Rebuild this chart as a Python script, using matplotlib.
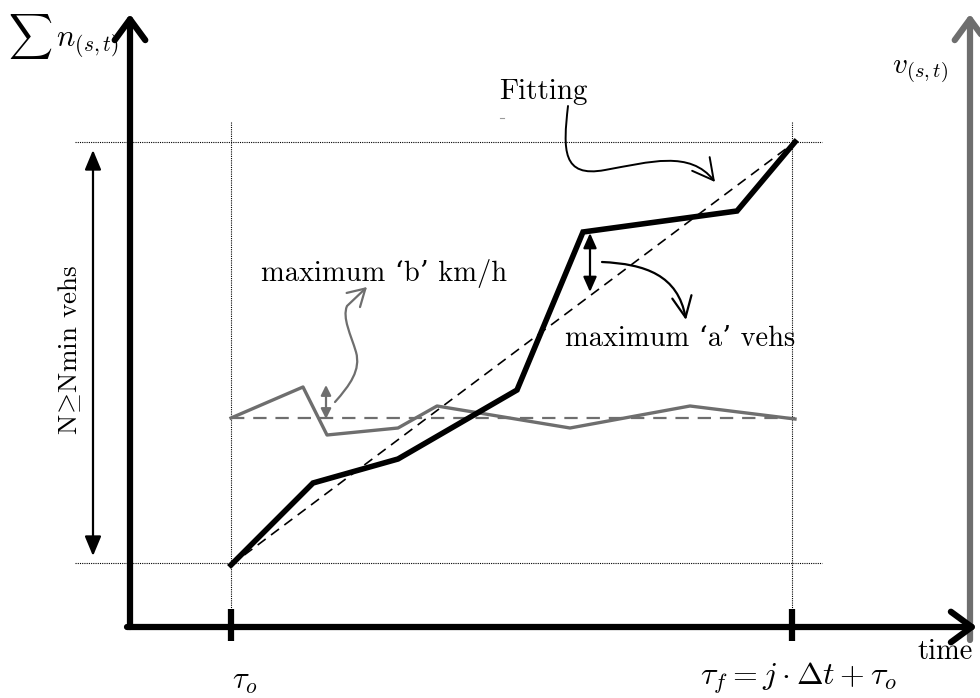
import matplotlib
matplotlib.use("Agg")
import matplotlib.pyplot as plt
from matplotlib.patches import FancyArrowPatch
from matplotlib.path import Path

plt.rcParams["mathtext.fontset"] = "cm"
plt.rcParams["font.family"] = ["cmr10", "DejaVu Serif"]
plt.rcParams["axes.unicode_minus"] = False

# --- schematic data (drawing units = pixels of the 980x698 canvas) ---
cum_x = [231, 313, 398, 517, 583, 737, 795]
cum_y = [565, 483, 459, 390, 232, 211, 142]

speed_x = [231, 303, 327, 398, 437, 570, 690, 795]
speed_y = [418, 387, 435, 428, 406, 428, 406, 419]

fit_x = [231, 795]
fit_y = [565, 142]

speed_mean_y = 418
t_start, t_end = 231, 792
n_low, n_high = 563, 142

BLACK = "#000000"
GRAY = "#6e6e6e"

fig = plt.figure(figsize=(9.8, 6.98), dpi=100)
ax = fig.add_axes([0, 0, 1, 1])
ax.set_xlim(0, 980)
ax.set_ylim(698, 0)
ax.axis("off")


def arrow(p0, p1, color, lw, style="->", hl=8, hw=5, path=None, z=3):
    st = f"{style},head_length={hl},head_width={hw}"
    if path is not None:
        a = FancyArrowPatch(path=path, arrowstyle=st, color=color, lw=lw,
                            mutation_scale=1, zorder=z)
    else:
        a = FancyArrowPatch(p0, p1, arrowstyle=st, color=color, lw=lw,
                            mutation_scale=1, shrinkA=0, shrinkB=0, zorder=z)
    ax.add_patch(a)


# guide lines (dotted)
for y in (n_high, n_low):
    ax.plot([75, 822], [y, y], color=BLACK, lw=0.8, ls=(0, (1, 1)), zorder=1)
for x in (t_start, t_end):
    ax.plot([x, x], [122, 612], color=BLACK, lw=0.8, ls=(0, (1, 1)), zorder=1)

# axes
arrow((130, 627), (130, 14), BLACK, 4.5, hl=15, hw=11)
arrow((127, 627), (977, 627), BLACK, 4.5, hl=15, hw=11)
arrow((970, 640), (970, 14), GRAY, 4.5, hl=15, hw=11, z=2)
for x in (t_start, t_end):
    ax.plot([x, x], [609, 641], color=BLACK, lw=4.5, solid_capstyle="butt", zorder=4)

# N range double arrow
arrow((93, 150), (93, 556), BLACK, 1.6, style="<|-|>", hl=12, hw=5)
ax.text(70, 350, r"N$\!\geq\!$Nmin vehs", rotation=90, ha="center", va="center",
        fontsize=19.5)

# series
ax.plot(fit_x, fit_y, color=BLACK, lw=1.2, ls=(0, (6, 4)), zorder=3)
ax.plot(cum_x, cum_y, color=BLACK, lw=4.0, solid_joinstyle="miter", zorder=4)
ax.plot([t_start, 795], [speed_mean_y, speed_mean_y], color=GRAY, lw=1.6,
        ls=(0, (6, 4)), zorder=3)
ax.plot(speed_x, speed_y, color=GRAY, lw=2.4, zorder=3)

# deviation arrows
arrow((326, 385), (326, 419), GRAY, 1.6, style="<|-|>", hl=6, hw=3)
arrow((590, 233), (590, 292), BLACK, 1.6, style="<|-|>", hl=9, hw=4)

# annotation curves
p_b = Path([(335, 402), (350, 385), (361, 370), (356, 352),
            (351, 335), (342, 318), (347, 306),
            (367, 287)],
           [Path.MOVETO, Path.CURVE4, Path.CURVE4, Path.CURVE4,
            Path.CURVE4, Path.CURVE4, Path.CURVE4,
            Path.LINETO])
arrow(None, None, GRAY, 1.6, hl=12, hw=7, path=p_b)

p_a = Path([(602, 262), (645, 264), (678, 275), (686, 320)],
           [Path.MOVETO, Path.CURVE4, Path.CURVE4, Path.CURVE4])
arrow(None, None, BLACK, 1.6, hl=15, hw=7, path=p_a)

p_f = Path([(568, 106), (563, 150), (562, 178), (605, 170),
            (650, 162), (690, 150), (715, 182)],
           [Path.MOVETO, Path.CURVE4, Path.CURVE4, Path.CURVE4,
            Path.CURVE4, Path.CURVE4, Path.CURVE4])
arrow(None, None, BLACK, 1.4, hl=15, hw=8, path=p_f)
ax.plot([500, 504], [118, 118], color="#9a9a9a", lw=0.8)

# labels
ax.text(543, 92, "Fitting", ha="center", va="center", fontsize=21)
ax.text(384, 273, "maximum \u2018b\u2019 km/h", ha="center", va="center", fontsize=20.5)
ax.text(680, 339, "maximum \u2018a\u2019 vehs", ha="center", va="center", fontsize=20.5)
ax.text(8, 36, r"$\sum\, n_{(s,t)}$", ha="left", va="center", fontsize=22)
ax.text(920, 72, r"$v_{(s,t)}$", ha="center", va="center", fontsize=21)
ax.text(245, 682, r"$\tau_o$", ha="center", va="center", fontsize=22)
ax.text(798, 678, r"$\tau_f = j \cdot \Delta t + \tau_o$", ha="center", va="center",
        fontsize=23)
ax.text(945, 652, "time", ha="center", va="center", fontsize=20.5)

fig.savefig("out.png", dpi=100)
